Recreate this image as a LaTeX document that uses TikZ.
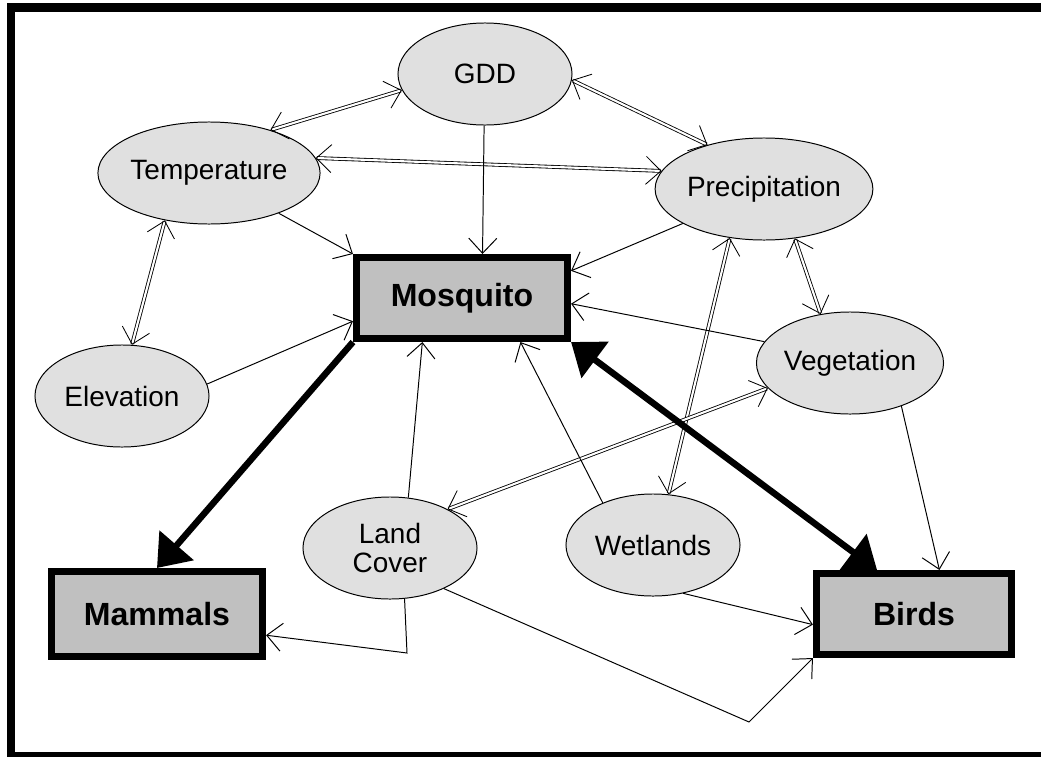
\documentclass[tikz,border=0pt]{standalone}
\usepackage{fontspec}
\setmainfont{Liberation Sans}
\usetikzlibrary{shapes.geometric,arrows.meta}
\definecolor{varfill}{HTML}{E0E0E0}
\definecolor{taxonfill}{HTML}{C0C0C0}

\begin{document}
\begin{tikzpicture}[
        x=0.025cm, y=-0.025cm,
        barb/.tip={Straight Barb[length=0.375cm, width=0.7cm]},
        bigtip/.tip={Triangle[length=0.75cm, width=1.1cm]},
        var/.style={ellipse, draw, fill=varfill, line width=0.7pt, minimum width=4.35cm, minimum height=2.55cm, inner sep=0pt, align=center, font=\fontsize{19.9}{21.3}\selectfont},
        taxon/.style={rectangle, draw, fill=taxonfill, line width=5pt, inner sep=0pt, font=\bfseries\fontsize{22.8}{26}\selectfont},
        link/.style={-barb, line width=0.7pt},
        mutual/.style={barb-barb, double, double distance=1.5pt, line width=0.6pt},
        strong/.style={-bigtip, line width=4.6pt}
    ]
        \useasboundingbox (0,0) rectangle (1041,757);
        \fill[white] (0,0) rectangle (1041,757);
        \begin{scope}
            \clip (0,0) rectangle (1041,757);
            \draw[line width=6pt] (1041,7.5) -- (11,7.5) -- (11,756) -- (1041,756);
        \end{scope}

        \node[var] (gdd) at (485,74) {GDD};
        \node[var] (temp) at (209,173) {Temperature};
        \node[var] (precip) at (764,189) {Precipitation};
        \node[var] (elev) at (122,396) {Elevation};
        \node[var] (veg) at (850,363) {Vegetation};
        \node[var] (land) at (390,548) {Land\\Cover};
        \node[var] (wet) at (653,545) {Wetlands};
        \node[taxon, minimum width=5.275cm, minimum height=2.025cm] (mosq) at (462,298) {Mosquito};
        \node[taxon, minimum width=5.275cm, minimum height=2.125cm] (mam) at (157,614) {Mammals};
        \node[taxon, minimum width=4.875cm, minimum height=2.025cm] (birds) at (914,614) {Birds};
        \coordinate (lcm) at (407,653);
        \coordinate (lcb) at (749,722);

        \draw[mutual] (temp.35) -- (gdd.191);
        \draw[mutual] (gdd.-4) -- (precip.142);
        \draw[mutual] (temp.8) -- (precip.170);
        \draw[mutual] (temp.-133) -- (elev.79);
        \draw[mutual] (precip.-58) -- (veg.121);
        \draw[mutual] (precip.-125) -- (wet.73);
        \draw[mutual] (veg.197) -- (land.34);
        \draw[link] (gdd.-91) -- (mosq.65);
        \draw[link] (temp.-30) -- (mosq.north west);
        \draw[link] (elev.8) -- (mosq.192);
        \draw[link] (precip.203) -- (mosq.14);
        \draw[link] (veg.166) -- (mosq.-3);
        \draw[link] (land.70) -- (mosq.-132);
        \draw[link] (wet.140) -- (mosq.-37);
        \draw[link] (veg.-40) -- (birds.60);
        \draw[link] (wet.-58) -- (birds.186);
        \draw[link] (land.-74) -- (lcm) -- (mam.-11);
        \draw[link] (land.-37) -- (lcb) -- (birds.south west);
        \draw[strong] (mosq.south west) -- (mam.north);
        \draw[strong, bigtip-bigtip] (mosq.south east) -- (birds.130);
    \end{tikzpicture}
\end{document}
